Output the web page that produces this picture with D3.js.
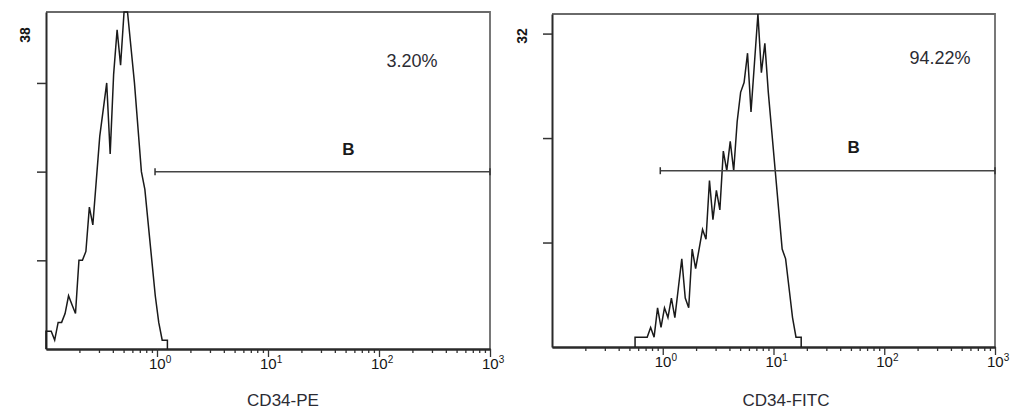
<!DOCTYPE html>
<html>
<head>
<meta charset="utf-8">
<script src="https://cdn.jsdelivr.net/npm/d3@7"></script>
<style>
  body { margin: 0; background: #fff; }
  svg { display: block; }
  text { font-family: "Liberation Sans", Arial, sans-serif; }
</style>
</head>
<body>
<svg id="chart" width="1011" height="412"></svg>
<script>
// histogram channels, 32 per decade, channel 0 starts at 10^-1
const binsPerDecade = 32;
const cd34peStart = 0;
const cd34peCounts = [2, 2, 1, 3, 3, 4, 6, 5, 4, 10, 10, 11, 16, 14, 19, 24, 27, 30, 22, 31,
  36, 32, 38, 38, 34, 30, 25, 20, 18, 14, 10, 6, 3, 1, 1];
const cd34fitcStart = 24;
const cd34fitcCounts = [1, 1, 1, 1, 2, 1, 4, 2, 4, 3, 5, 3, 6, 9, 5, 4, 10, 8, 10, 12,
  11, 17, 13, 16, 14, 20, 18, 21, 18, 23, 26, 27, 30, 24, 29, 34, 28, 31, 26, 22,
  18, 14, 10, 9, 6, 3, 1, 1];

const xDomain = [0.1, 1000];
const xTickExponents = [0, 1, 2, 3];
const axisTitles = ['CD34-PE', 'CD34-FITC'];
const yMaxCounts = [38, 34];
const yMaxLabels = ['38', '32'];
const yTicksPE = [10, 20, 30];
const yTicksFITC = [32 / 3, 64 / 3, 32];
const gatePercents = ['3.20%', '94.22%'];
const gateName = 'B';
const gateRanges = [[0.96, 1000], [0.95, 1000]];
const gateHeights = [20, 18];

const svg = d3.select('#chart');

const panels = [
  { left: 46, right: 490, top: 12, bottom: 349, start: cd34peStart, counts: cd34peCounts,
    yTicks: yTicksPE, labelX: 25, labelY: 35, pctX: 412, pctY: 67, titleX: 283, bY: 155 },
  { left: 552, right: 995, top: 14, bottom: 347, start: cd34fitcStart, counts: cd34fitcCounts,
    yTicks: yTicksFITC, labelX: 522, labelY: 36, pctX: 940, pctY: 64, titleX: 786, bY: 153 }
];

const edge = i => Math.pow(10, -1 + i / binsPerDecade);

// minor ticks 2..9 in every decade
const minorTicks = [];
[0.1, 1, 10, 100].forEach(d => { for (let k = 2; k <= 9; k++) minorTicks.push(d * k); });

panels.forEach((p, pi) => {
  const x = d3.scaleLog().domain(xDomain).range([p.left, p.right]);
  const y = d3.scaleLinear().domain([0, yMaxCounts[pi]]).range([p.bottom, p.top]);
  const g = svg.append('g');

  // frame (top and right), lighter grey
  g.append('path')
    .attr('d', `M${p.left},${p.top}H${p.right}V${p.bottom}`)
    .attr('fill', 'none')
    .attr('stroke', '#6a6a6a')
    .attr('stroke-width', 1.8);

  // x axis: minor then major ticks
  const gx = g.append('g').attr('transform', `translate(0,${p.bottom})`);
  gx.append('g').call(d3.axisBottom(x).tickValues(minorTicks).tickSize(4).tickSizeOuter(0).tickFormat(''));
  gx.append('g').call(d3.axisBottom(x).tickValues(xTickExponents.map(e => Math.pow(10, e)))
    .tickSize(8).tickSizeOuter(0).tickFormat(''));
  gx.selectAll('path.domain').attr('stroke', '#2a2a2a').attr('stroke-width', 2);
  gx.selectAll('.tick line').attr('stroke', '#333').attr('stroke-width', 1.3);

  xTickExponents.forEach(e => {
    const t = gx.append('text')
      .attr('x', x(Math.pow(10, e)) - 8)
      .attr('y', 20)
      .attr('fill', '#151515')
      .style('font-size', '15px');
    t.append('tspan').text('10');
    t.append('tspan').attr('dy', -6).style('font-size', '10px').text(e);
  });

  // y axis
  const gy = g.append('g').attr('transform', `translate(${p.left},0)`);
  gy.call(d3.axisLeft(y).tickValues(p.yTicks).tickSize(9).tickSizeOuter(0).tickFormat(''));
  gy.select('path.domain').attr('stroke', '#2a2a2a').attr('stroke-width', 2);
  gy.selectAll('.tick line').attr('stroke', '#333').attr('stroke-width', 1.5);

  g.append('text')
    .attr('transform', `translate(${p.labelX},${p.labelY}) rotate(-90)`)
    .attr('text-anchor', 'middle')
    .attr('dominant-baseline', 'central')
    .attr('fill', '#151515')
    .style('font-size', '14px')
    .style('font-weight', 'bold')
    .text(yMaxLabels[pi]);

  // histogram outline through channel centres
  const n = p.counts.length;
  const pts = [[edge(p.start), 0], [edge(p.start), p.counts[0]]];
  p.counts.forEach((c, i) => pts.push([edge(p.start + i + 0.5), c]));
  pts.push([edge(p.start + n), p.counts[n - 1]], [edge(p.start + n), 0]);

  g.append('path')
    .datum(pts)
    .attr('fill', 'none')
    .attr('stroke', '#1a1a1a')
    .attr('stroke-width', 1.5)
    .attr('stroke-linejoin', 'miter')
    .attr('d', d3.line().x(d => x(d[0])).y(d => y(d[1])));

  // gate marker
  const gy0 = y(gateHeights[pi]);
  const gx0 = x(gateRanges[pi][0]);
  const gx1 = x(gateRanges[pi][1]);
  g.append('line')
    .attr('x1', gx0).attr('x2', gx1).attr('y1', gy0).attr('y2', gy0)
    .attr('stroke', '#444').attr('stroke-width', 1.5);
  [gx0, gx1].forEach(xx => {
    g.append('line')
      .attr('x1', xx).attr('x2', xx).attr('y1', gy0 - 3.5).attr('y2', gy0 + 3.5)
      .attr('stroke', '#333').attr('stroke-width', 1.5);
  });

  g.append('text')
    .attr('x', x(53)).attr('y', p.bY)
    .attr('text-anchor', 'middle')
    .attr('fill', '#1a1a1a')
    .style('font-size', '17px')
    .style('font-weight', 'bold')
    .text(gateName);

  g.append('text')
    .attr('x', p.pctX).attr('y', p.pctY)
    .attr('text-anchor', 'middle')
    .attr('fill', '#2b2b33')
    .style('font-size', '18px')
    .text(gatePercents[pi]);

  g.append('text')
    .attr('x', p.titleX).attr('y', 406)
    .attr('text-anchor', 'middle')
    .attr('fill', '#2b2b33')
    .style('font-size', '17px')
    .text(axisTitles[pi]);
});
</script>
</body>
</html>
